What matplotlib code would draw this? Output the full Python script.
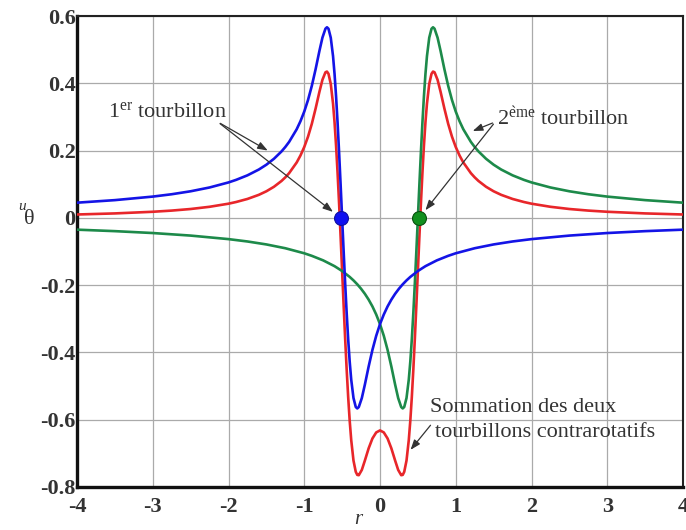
import matplotlib
matplotlib.use("Agg")
import matplotlib.pyplot as plt

plt.rcParams["mathtext.fontset"] = "custom"
plt.rcParams["mathtext.rm"] = "Liberation Serif"
plt.rcParams["mathtext.it"] = "Liberation Serif:italic"

# ---- data ----
blue_x = [-4, -3.5, -3, -2.75, -2.5, -2.25, -2, -1.9, -1.75, -1.6, -1.5, -1.4, -1.3, -1.25,
          -1.2, -1.1, -1.05, -1.0, -0.95, -0.9, -0.85, -0.8, -0.76, -0.72, -0.70, -0.68,
          -0.65, -0.62, -0.60, -0.58, -0.56, -0.54, -0.52, -0.5, -0.48, -0.46, -0.44, -0.42,
          -0.40, -0.38, -0.35, -0.32, -0.30, -0.28, -0.24, -0.2, -0.15, -0.1, -0.05, 0,
          0.05, 0.1, 0.15, 0.2, 0.25, 0.3, 0.35, 0.4, 0.5, 0.6, 0.75, 0.9, 1.0, 1.25, 1.5,
          1.75, 2.0, 2.5, 3.0, 3.5, 4.0]
blue_y = [0.0451, 0.0527, 0.0632, 0.0702, 0.0790, 0.0903, 0.1053, 0.1129, 0.1264, 0.1436,
          0.1580, 0.1756, 0.1975, 0.2107, 0.2257, 0.2633, 0.2873, 0.3159, 0.3505, 0.3925,
          0.4420, 0.4959, 0.5357, 0.5623, 0.5665, 0.5621, 0.5355, 0.4808, 0.4276, 0.3612,
          0.2828, 0.1945, 0.0991, 0.0, -0.0991, -0.1945, -0.2828, -0.3612, -0.4276, -0.4808,
          -0.5355, -0.5621, -0.5665, -0.5623, -0.5357, -0.4959, -0.4420, -0.3925, -0.3505,
          -0.3159, -0.2873, -0.2633, -0.2431, -0.2257, -0.2107, -0.1975, -0.1859, -0.1756,
          -0.1580, -0.1436, -0.1264, -0.1129, -0.1053, -0.0903, -0.0790, -0.0702, -0.0632,
          -0.0527, -0.0451, -0.0395, -0.0351]

green_x = [-4, -3.5, -3, -2.5, -2, -1.75, -1.5, -1.25, -1.0, -0.9, -0.75, -0.6, -0.5, -0.4,
           -0.35, -0.3, -0.25, -0.2, -0.15, -0.1, -0.05, 0, 0.05, 0.1, 0.15, 0.2, 0.24, 0.28,
           0.30, 0.32, 0.35, 0.38, 0.40, 0.42, 0.44, 0.46, 0.48, 0.5, 0.52, 0.54, 0.56, 0.58,
           0.60, 0.62, 0.65, 0.68, 0.70, 0.72, 0.76, 0.8, 0.85, 0.9, 0.95, 1.0, 1.05, 1.1,
           1.2, 1.25, 1.3, 1.4, 1.5, 1.6, 1.75, 1.9, 2, 2.25, 2.5, 2.75, 3, 3.5, 4]
green_y = [-0.0351, -0.0395, -0.0451, -0.0527, -0.0632, -0.0702, -0.0790, -0.0903, -0.1053,
           -0.1129, -0.1264, -0.1436, -0.1580, -0.1756, -0.1859, -0.1975, -0.2107, -0.2257,
           -0.2431, -0.2633, -0.2873, -0.3159, -0.3505, -0.3925, -0.4420, -0.4959, -0.5357,
           -0.5623, -0.5665, -0.5621, -0.5355, -0.4808, -0.4276, -0.3612, -0.2828, -0.1945,
           -0.0991, 0.0, 0.0991, 0.1945, 0.2828, 0.3612, 0.4276, 0.4808, 0.5355, 0.5621,
           0.5665, 0.5623, 0.5357, 0.4959, 0.4420, 0.3925, 0.3505, 0.3159, 0.2873, 0.2633,
           0.2257, 0.2107, 0.1975, 0.1756, 0.1580, 0.1436, 0.1264, 0.1129, 0.1053, 0.0903,
           0.0790, 0.0702, 0.0632, 0.0527, 0.0451]

red_x = [-4, -3.5, -3, -2.75, -2.5, -2.25, -2, -1.9, -1.75, -1.6, -1.5, -1.4, -1.3, -1.25,
         -1.2, -1.1, -1.05, -1.0, -0.95, -0.9, -0.85, -0.8, -0.76, -0.72, -0.70, -0.68, -0.65,
         -0.62, -0.60, -0.58, -0.56, -0.54, -0.52, -0.5, -0.48, -0.46, -0.44, -0.42, -0.40,
         -0.38, -0.35, -0.32, -0.30, -0.28, -0.24, -0.2, -0.15, -0.1, -0.05, 0,
         0.05, 0.1, 0.15, 0.2, 0.24, 0.28, 0.30, 0.32, 0.35, 0.38, 0.40, 0.42, 0.44, 0.46,
         0.48, 0.5, 0.52, 0.54, 0.56, 0.58, 0.60, 0.62, 0.65, 0.68, 0.70, 0.72, 0.76, 0.8,
         0.85, 0.9, 0.95, 1.0, 1.05, 1.1, 1.2, 1.25, 1.3, 1.4, 1.5, 1.6, 1.75, 1.9, 2, 2.25,
         2.5, 2.75, 3, 3.5, 4]
red_y = [0.0100, 0.0132, 0.0181, 0.0216, 0.0263, 0.0329, 0.0421, 0.0471, 0.0562, 0.0684,
         0.0790, 0.0924, 0.1097, 0.1204, 0.1328, 0.1646, 0.1854, 0.2106, 0.2415, 0.2796,
         0.3250, 0.3744, 0.4103, 0.4328, 0.4348, 0.4282, 0.3981, 0.3397, 0.2840, 0.2149,
         0.1337, 0.0426, -0.0558, -0.1580, -0.2603, -0.3591, -0.4509, -0.5329, -0.6032,
         -0.6604, -0.7214, -0.7548, -0.7640, -0.7649, -0.7492, -0.7216, -0.6851, -0.6558,
         -0.6378, -0.6318,
         -0.6378, -0.6558, -0.6851, -0.7216, -0.7492, -0.7649, -0.7640, -0.7548, -0.7214,
         -0.6604, -0.6032, -0.5329, -0.4509, -0.3591, -0.2603, -0.1580, -0.0558, 0.0426,
         0.1337, 0.2149, 0.2840, 0.3397, 0.3981, 0.4282, 0.4348, 0.4328, 0.4103, 0.3744,
         0.3250, 0.2796, 0.2415, 0.2106, 0.1854, 0.1646, 0.1328, 0.1204, 0.1097, 0.0924,
         0.0790, 0.0684, 0.0562, 0.0471, 0.0421, 0.0329, 0.0263, 0.0216, 0.0181, 0.0132,
         0.0100]

dots_x = [-0.52, 0.52]
dots_y = [0.0, 0.0]

x_ticks = [-4, -3, -2, -1, 0, 1, 2, 3, 4]
y_ticks = [-0.8, -0.6, -0.4, -0.2, 0, 0.2, 0.4, 0.6]
y_tick_labels = ["-0.8", "-0.6", "-0.4", "-0.2", "0", "0.2", "0.4", "0.6"]

serif = ["Liberation Serif", "DejaVu Serif"]

fig = plt.figure(figsize=(6.86, 5.30), dpi=100)
ax = fig.add_axes([77 / 686, 43 / 530, 606 / 686, 471 / 530])

ax.plot(red_x, red_y, color="#e8262a", lw=1.9, zorder=3)
ax.plot(green_x, green_y, color="#1d8a4a", lw=1.9, zorder=4)
ax.plot(blue_x, blue_y, color="#1414e6", lw=1.9, zorder=5)

ax.plot(dots_x[0], dots_y[0], "o", ms=10, color="#1010f0", mec="#1010a0", mew=0.8, zorder=7)
ax.plot(dots_x[1], dots_y[1], "o", ms=10, color="#12901f", mec="#0a5010", mew=0.8, zorder=7)

ax.set_xlim(-4, 4)
ax.set_ylim(-0.8, 0.6)
ax.set_xticks(x_ticks)
ax.set_yticks(y_ticks)
ax.set_xticklabels([str(t) for t in x_ticks], fontfamily=serif, fontsize=16, fontweight="bold", color="#333333")
ax.set_yticklabels(y_tick_labels, fontfamily=serif, fontsize=16, fontweight="bold", color="#333333")
ax.tick_params(axis="both", length=0)
ax.tick_params(axis="x", pad=7)
ax.tick_params(axis="y", pad=1)
ax.grid(True, color="#aaaaaa", lw=0.9)
ax.set_axisbelow(True)

for side in ["left", "bottom"]:
    ax.spines[side].set_linewidth(2.4)
    ax.spines[side].set_color("#111111")
for side in ["top", "right"]:
    ax.spines[side].set_linewidth(1.5)
    ax.spines[side].set_color("#222222")

# axis labels
fig.text(22 / 686, 1 - 207 / 530, "u", fontfamily=serif, fontstyle="italic", fontsize=11,
         ha="center", va="center", color="#333333")
fig.text(29 / 686, 1 - 220 / 530, "θ", fontfamily=serif, fontsize=16,
         ha="center", va="center", color="#333333")
fig.text(358 / 686, 1 - 520 / 530, "r", fontfamily=serif, fontstyle="italic", fontsize=15,
         ha="center", va="center", color="#333333")

# annotations
arrow_kw = dict(arrowstyle="-|>,head_length=0.6,head_width=0.22", color="#333333", lw=0.9)
ax.text(-3.59, 0.315, "1$^{\\mathrm{er}}$ tourbillon", fontfamily=serif, fontsize=16,
        ha="left", va="center", color="#333333", zorder=8)
ax.annotate("", xy=(-1.45, 0.196), xytext=(-2.14, 0.285), arrowprops=arrow_kw, zorder=8)
ax.annotate("", xy=(-0.52, 0.0), xytext=(-2.14, 0.285),
            arrowprops=dict(arrow_kw, shrinkB=7), zorder=8)

ax.text(1.54, 0.297, "2$^{\\mathrm{\\grave{e}me}}$ tourbillon", fontfamily=serif, fontsize=16,
        ha="left", va="center", color="#333333", zorder=8)
ax.annotate("", xy=(1.19, 0.255), xytext=(1.52, 0.285), arrowprops=arrow_kw, zorder=8)
ax.annotate("", xy=(0.52, 0.0), xytext=(1.52, 0.285),
            arrowprops=dict(arrow_kw, shrinkB=7), zorder=8)

ax.text(0.66, -0.565, "Sommation des deux", fontfamily=serif, fontsize=16,
        ha="left", va="center", color="#333333", zorder=8)
ax.text(0.725, -0.639, "tourbillons contrarotatifs", fontfamily=serif, fontsize=16,
        ha="left", va="center", color="#333333", zorder=8)
ax.annotate("", xy=(0.38, -0.696), xytext=(0.69, -0.61), arrowprops=arrow_kw, zorder=8)

fig.savefig("out.png", dpi=100)
